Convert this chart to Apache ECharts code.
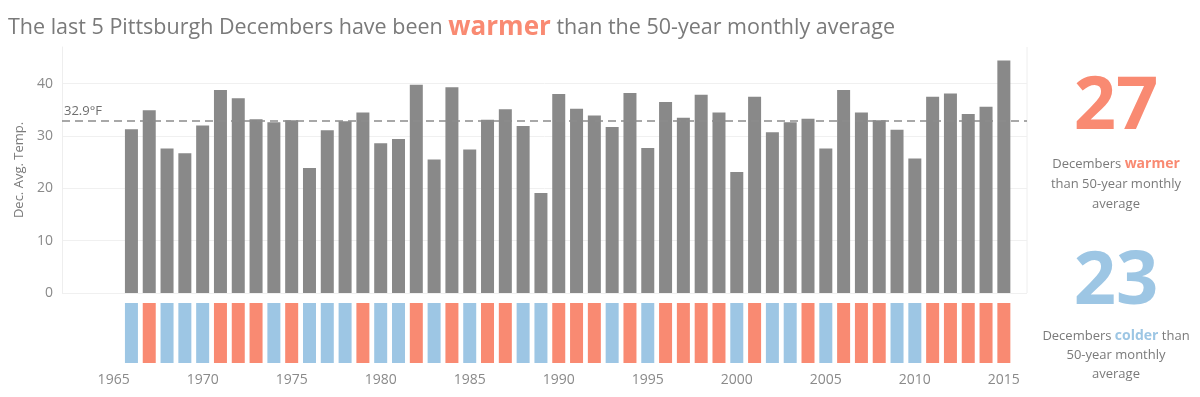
<!DOCTYPE html>
<html>
<head>
<meta charset="utf-8">
<script src="https://cdn.jsdelivr.net/npm/echarts@6/dist/echarts.min.js"></script>
<style>
  html, body { margin: 0; padding: 0; background: #fff; }
  #main { width: 1200px; height: 397px; }
</style>
</head>
<body>
<div id="main"></div>
<script>
// December years
var years = [1966, 1967, 1968, 1969, 1970, 1971, 1972, 1973, 1974, 1975,
             1976, 1977, 1978, 1979, 1980, 1981, 1982, 1983, 1984, 1985,
             1986, 1987, 1988, 1989, 1990, 1991, 1992, 1993, 1994, 1995,
             1996, 1997, 1998, 1999, 2000, 2001, 2002, 2003, 2004, 2005,
             2006, 2007, 2008, 2009, 2010, 2011, 2012, 2013, 2014, 2015];
// average December temperature (°F)
var temps = [31.3, 34.9, 27.6, 26.7, 32.0, 38.8, 37.2, 33.2, 32.6, 33.0,
             23.9, 31.1, 32.8, 34.5, 28.6, 29.4, 39.8, 25.5, 39.3, 27.4,
             33.1, 35.1, 31.9, 19.1, 38.0, 35.2, 33.9, 31.7, 38.2, 27.7,
             36.5, 33.5, 37.9, 34.5, 23.1, 37.5, 30.7, 32.6, 33.3, 27.6,
             38.8, 34.5, 33.0, 31.2, 25.7, 37.5, 38.1, 34.2, 35.6, 44.4];
var avgTemp = 32.9;
var yearLabels = [1965, 1970, 1975, 1980, 1985, 1990, 1995, 2000, 2005, 2010, 2015];
var warmCount = '27';
var coldCount = '23';

var warm = '#F98A72';
var cold = '#9DC6E4';
var barGrey = '#898989';

var myChart = echarts.init(document.getElementById('main'));

var option = {
  animation: false,
  textStyle: { fontFamily: 'Open Sans' },
  title: {
    left: 3,
    top: 10,
    text: '{a|The last 5 Pittsburgh Decembers have been }{b|warmer}{a| than the 50-year monthly average}',
    textStyle: {
      fontWeight: 'normal',
      rich: {
        a: { fontSize: 21.5, color: '#7a7a7a', fontWeight: 'normal', fontFamily: 'Open Sans' },
        b: { fontSize: 26, color: warm, fontWeight: 'bold', fontFamily: 'Open Sans' }
      }
    }
  },
  grid: [
    { left: 62, right: 173, top: 47, height: 246 },
    { left: 62, right: 173, top: 303, height: 60 }
  ],
  xAxis: [
    {
      gridIndex: 0, type: 'value', min: 1962.1, max: 2016.3,
      axisLine: { show: false }, axisTick: { show: false },
      axisLabel: { show: false }, splitLine: { show: false }
    },
    {
      gridIndex: 1, type: 'value', min: 1962.1, max: 2016.3,
      axisLine: { show: false }, axisTick: { show: false },
      splitLine: { show: false },
      axisLabel: {
        customValues: yearLabels,
        formatter: function (v) { return String(v); },
        color: '#8a8a8a', fontSize: 14, margin: 10
      }
    }
  ],
  yAxis: [
    {
      gridIndex: 0, type: 'value', min: 0, max: 47, interval: 10,
      name: 'Dec. Avg. Temp.', nameLocation: 'middle', nameGap: 32,
      nameTextStyle: { color: '#7a7a7a', fontSize: 13 },
      axisLine: { show: true, lineStyle: { color: '#eeeeee' } },
      axisTick: { show: false },
      axisLabel: { color: '#8a8a8a', fontSize: 14, margin: 9, showMaxLabel: false },
      splitLine: { show: true, showMaxLine: false, lineStyle: { color: '#f0f0f0' } }
    },
    {
      gridIndex: 1, type: 'value', min: 0, max: 1,
      axisLine: { show: false }, axisTick: { show: false },
      axisLabel: { show: false }, splitLine: { show: false }
    }
  ],
  graphic: [
    { type: 'line', shape: { x1: 1027, y1: 47, x2: 1027, y2: 293 }, style: { stroke: '#eeeeee', lineWidth: 1 } },
    { type: 'text', x: 1116, y: 71, style: { text: warmCount, fill: warm, fontSize: 74, fontWeight: 'bold', fontFamily: 'Open Sans', align: 'center', verticalAlign: 'top' } },
    {
      type: 'text', x: 1116, y: 154,
      style: {
        text: 'Decembers {w|warmer}\nthan 50-year monthly\naverage',
        align: 'center', fill: '#7a7a7a', fontSize: 13, lineHeight: 20, fontFamily: 'Open Sans',
        rich: { w: { fill: warm, fontWeight: 'bold', fontSize: 14, fontFamily: 'Open Sans' } }
      }
    },
    { type: 'text', x: 1116, y: 246, style: { text: coldCount, fill: cold, fontSize: 74, fontWeight: 'bold', fontFamily: 'Open Sans', align: 'center', verticalAlign: 'top' } },
    {
      type: 'text', x: 1116, y: 327,
      style: {
        text: 'Decembers {c|colder} than\n50-year monthly\naverage',
        align: 'center', fill: '#7a7a7a', fontSize: 13, lineHeight: 19, fontFamily: 'Open Sans',
        rich: { c: { fill: cold, fontWeight: 'bold', fontSize: 14, fontFamily: 'Open Sans' } }
      }
    }
  ],
  series: [
    {
      type: 'bar', xAxisIndex: 0, yAxisIndex: 0, barWidth: 13,
      itemStyle: { color: barGrey },
      data: years.map(function (y, i) { return [y, temps[i]]; }),
      markLine: {
        symbol: 'none', silent: true,
        lineStyle: { color: '#8c8c8c', type: [8, 5], width: 1.5 },
        label: { position: 'insideStartTop', formatter: '32.9°F', color: '#6e6e6e', fontSize: 13, distance: [2, 3] },
        data: [{ yAxis: avgTemp }]
      }
    },
    {
      type: 'bar', xAxisIndex: 1, yAxisIndex: 1, barWidth: 13,
      data: years.map(function (y, i) {
        return { value: [y, 1], itemStyle: { color: temps[i] > avgTemp ? warm : cold } };
      })
    }
  ]
};

myChart.setOption(option);
</script>
</body>
</html>
